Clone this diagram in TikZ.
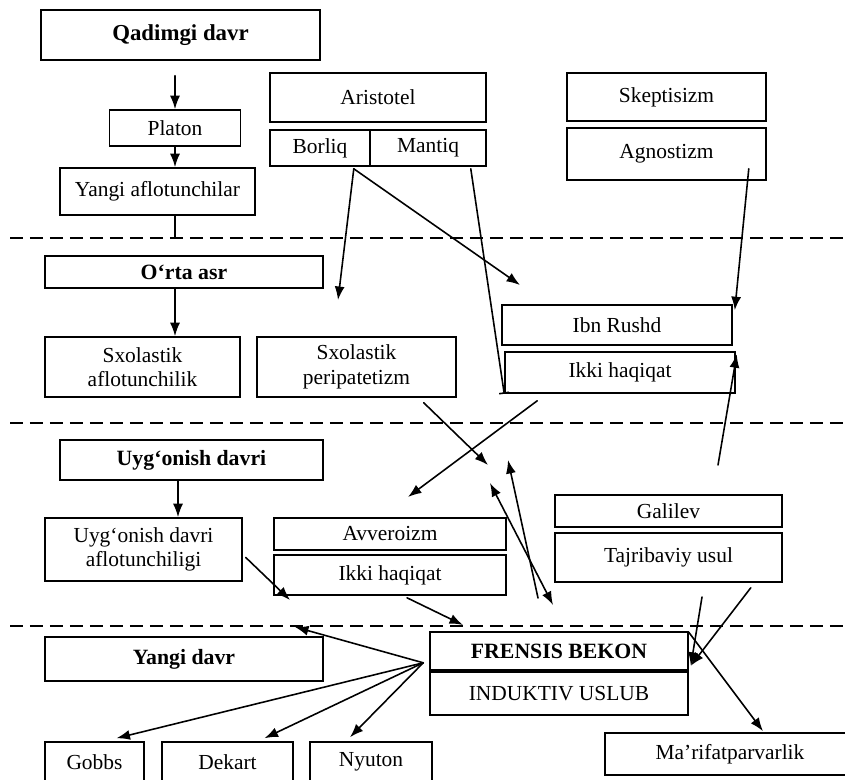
\documentclass[tikz,border=0pt]{standalone}
\usepackage{fontspec}
\setmainfont{Liberation Serif}
\usetikzlibrary{arrows.meta,calc}

\begin{document}
\begin{tikzpicture}[x=0.02cm,y=-0.02cm,>={Latex[length=2.7mm,width=2mm]},line cap=round,
  box/.style={draw,line width=0.9pt,inner sep=0pt,align=center,font=\fontsize{12.2}{14}\selectfont},
  era/.style={box,font=\fontsize{12.4}{14}\selectfont\bfseries},
  link/.style={->,line width=0.9pt},
  border/.style={line width=1.2pt,dash pattern=on 0.26cm off 0.14cm,line cap=butt}]
  \useasboundingbox (0,0) rectangle (845,780);
  \clip (0,0) rectangle (845,780);

  % period borders
  \coordinate (cut1) at (0,238);
  \coordinate (cut2) at (0,423);
  \coordinate (cut3) at (0,626);
  \draw[border] (10,238) -- (845,238);
  \draw[border] (10,423) -- (845,423);
  \draw[border] (10,626) -- (845,626);

  % antiquity
  \node[era,minimum width=5.58cm,minimum height=1cm,font=\fontsize{13}{15}\selectfont\bfseries] (qadim) at (180.5,35) {Qadimgi davr};
  \node[box,minimum width=2.62cm,minimum height=0.72cm] (platon) at (175,128) {Platon};
  \node[box,minimum width=3.9cm,minimum height=0.94cm] (yangiafl) at (157.5,191.5) {Yangi aflotunchilar};
  \node[box,minimum width=4.32cm,minimum height=0.98cm] (aristotel) at (378,97.5) {Aristotel};
  \node[box,minimum width=2cm,minimum height=0.72cm] (borliq) at (320,148) {Borliq};
  \node[box,minimum width=2.32cm,minimum height=0.72cm] (mantiq) at (428,148) {Mantiq};
  \node[box,minimum width=3.98cm,minimum height=0.96cm] (skeptik) at (666.5,97) {Skeptisizm};
  \node[box,minimum width=3.98cm,minimum height=1.04cm] (agnost) at (666.5,154) {Agnostizm};

  % middle ages
  \node[era,minimum width=5.56cm,minimum height=0.64cm] (ortaasr) at (184,272) {O‘rta asr};
  \node[box,minimum width=3.9cm,minimum height=1.2cm] (sxafl) at (142.5,367) {Sxolastik\\aflotunchilik};
  \node[box,minimum width=3.98cm,minimum height=1.2cm] (sxper) at (356.5,367) {Sxolastik\\peripatetizm};
  \node[box,minimum width=4.6cm,minimum height=0.8cm] (ibnrushd) at (617,325) {Ibn Rushd};
  \node[box,minimum width=4.6cm,minimum height=0.82cm] (ikkia) at (620,372.5) {Ikki haqiqat};

  % renaissance
  \node[era,minimum width=5.26cm,minimum height=0.8cm] (uygon) at (191.5,460) {Uyg‘onish davri};
  \node[box,minimum width=3.94cm,minimum height=1.26cm] (uygafl) at (143.5,549.5) {Uyg‘onish davri\\aflotunchiligi};
  \node[box,minimum width=4.64cm,minimum height=0.64cm] (avver) at (390,534) {Avveroizm};
  \node[box,minimum width=4.64cm,minimum height=0.8cm] (ikkib) at (390,575) {Ikki haqiqat};
  \node[box,minimum width=4.54cm,minimum height=0.64cm] (galilev) at (668.5,511) {Galilev};
  \node[box,minimum width=4.54cm,minimum height=0.98cm] (tajrib) at (668.5,557.5) {Tajribaviy usul};

  % modern age
  \node[era,minimum width=5.56cm,minimum height=0.88cm] (yangidavr) at (184,659) {Yangi davr};
  \node[era,minimum width=5.16cm,minimum height=0.76cm] (bekon) at (559,651) {FRENSIS BEKON};
  \node[box,minimum width=5.16cm,minimum height=0.86cm] (induktiv) at (559,693.5) {INDUKTIV USLUB};
  \node[box,minimum width=1.98cm,minimum height=0.8cm] (gobbs) at (94.5,762) {Gobbs};
  \node[box,minimum width=2.62cm,minimum height=0.8cm] (dekart) at (227.5,762) {Dekart};
  \node[box,minimum width=2.44cm,minimum height=0.8cm] (nyuton) at (371,762) {Nyuton};
  \node[box,minimum width=5cm,minimum height=0.84cm] (marif) at (730,754) {Ma’rifatparvarlik};

  % free ends
  \coordinate (b1) at (338,300);
  \coordinate (b2) at (520,285);
  \coordinate (g1) at (718,465);
  \coordinate (c1) at (488,465);
  \coordinate (c2) at (408,497);
  \coordinate (c3) at (538,598);
  \coordinate (c4) at (508,460);
  \coordinate (c5) at (490,483);
  \coordinate (c6) at (553,605);
  \coordinate (d1) at (290,600);
  \coordinate (d2) at (463,625);
  \coordinate (d3) at (295,627);
  \coordinate (h1) at (702,597);
  \coordinate (fb) at ($(bekon.south west)+(-6,-8)$);

  % links
  \draw[link,shorten <=0.3cm] (platon.north |- qadim.south) -- (platon.north);
  \draw[link] (platon.south) -- (platon.south |- yangiafl.north);
  \draw[line width=0.9pt] (platon.south |- yangiafl.south) -- (platon.south |- cut1);
  \draw[link] ($(borliq.south east)+(-17,2)$) -- (b1);
  \draw[link] ($(borliq.south east)+(-17,2)$) -- (b2);
  \draw[line width=0.9pt,-{Bar[width=2mm]}] ($(mantiq.south east)+(-16,2)$) -- (ikkia.south west);
  \draw[link] ($(agnost.south east)+(-18,-12)$) -- ($(ibnrushd.north east)+(2,6)$);
  \draw[link] (g1) -- ($(ikkia.north east)+(1,3)$);
  \draw[link] (ortaasr.south -| 175,0) -- (sxafl.north -| 175,0);
  \draw[link] ($(sxper.south east)+(-33,5)$) -- (c1);
  \draw[link] ($(ikkia.south west)+(33,7)$) -- (c2);
  \draw[link] (c3) -- (c4);
  \draw[link,<->] (c5) -- (c6);
  \draw[link] (uygon.south -| 178,0) -- (uygafl.north -| 178,0);
  \draw[link] ($(uygafl.east)+(3,8)$) -- (d1);
  \draw[link] ($(ikkib.south)+(17,2)$) -- (d2);
  \draw[link] (fb) -- (d3);
  \draw[link] (fb) -- ($(gobbs.north)+(22,-3)$);
  \draw[link] (fb) -- ($(dekart.north)+(37,-3)$);
  \draw[link] (fb) -- ($(nyuton.north)+(-21,-4)$);
  \draw[link] (h1) -- ($(bekon.south east)+(2,-5)$);
  \draw[link] ($(tajrib.south east)+(-32,5)$) -- ($(bekon.south east)+(2,-5)$);
  \draw[link] ($(bekon.north east)+(0,1)$) -- ($(marif.north)+(33,-1)$);
\end{tikzpicture}
\end{document}
